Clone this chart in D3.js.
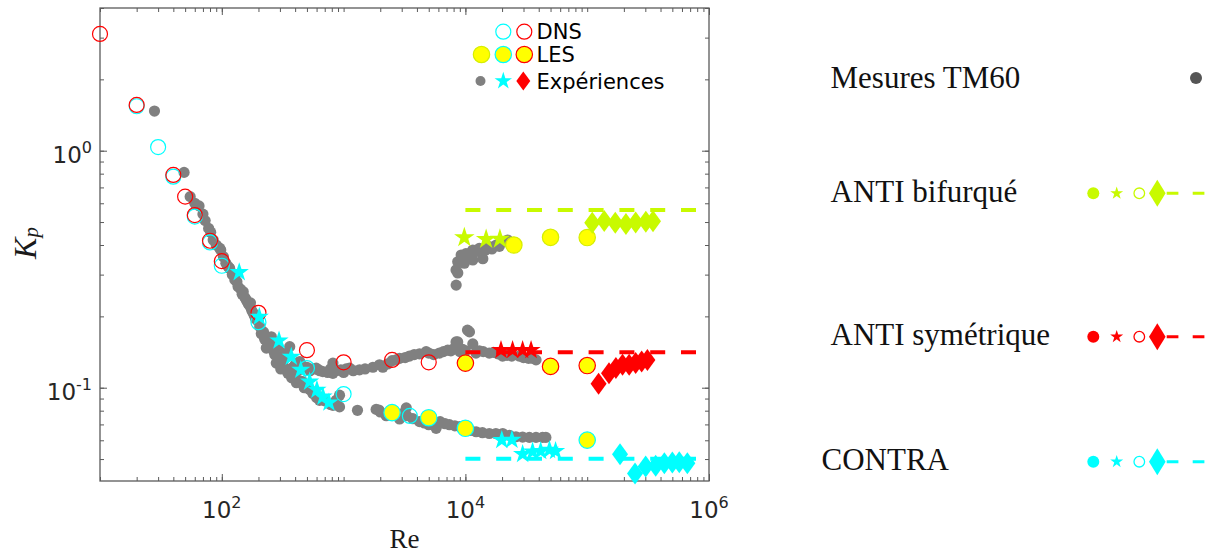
<!DOCTYPE html>
<html>
<head>
<meta charset="utf-8">
<script src="https://cdn.jsdelivr.net/npm/d3@7"></script>
<style>
  body { margin: 0; background: #fff; }
  svg { display: block; }
</style>
</head>
<body>
<svg id="chart" width="1205" height="554"></svg>
<script>
// ---------------- data: pressure coefficient Kp versus Reynolds number ----------------

// TM60 measurements (grey dots), split by branch: [Re, Kp]
const tm60Descent = [
  [28, 1.47], [49, 0.81], [55, 0.64], [60, 0.60], [65, 0.585], [70, 0.54], [73, 0.507],
  [78, 0.47], [81, 0.453], [85, 0.42], [90, 0.40], [96, 0.388], [98, 0.381], [103, 0.357],
  [108, 0.335], [113, 0.324], [116, 0.319], [122, 0.30], [128, 0.294], [128, 0.285],
  [133, 0.28], [136, 0.267], [143, 0.26], [147, 0.248], [150, 0.254], [155, 0.24],
  [159, 0.234], [165, 0.226], [170, 0.221], [172, 0.228], [176, 0.212], [181, 0.206],
  [186, 0.2], [190, 0.195], [200, 0.19], [205, 0.181], [211, 0.169], [220, 0.172],
  [225, 0.16], [232, 0.147], [240, 0.158], [246, 0.15], [255, 0.164], [262, 0.145],
  [266, 0.149], [272, 0.138], [280, 0.127], [289, 0.149], [298, 0.127], [305, 0.12],
  [310, 0.135], [320, 0.13], [328, 0.14], [338, 0.12], [349, 0.115], [361, 0.149],
  [361, 0.115], [375, 0.11], [385, 0.122], [396, 0.111], [410, 0.105], [420, 0.118],
  [436, 0.107], [436, 0.129], [460, 0.106], [475, 0.1], [494, 0.101], [494, 0.1],
  [530, 0.098], [560, 0.0946], [600, 0.091], [635, 0.0885], [635, 0.0916], [700, 0.088],
  [780, 0.085], [817, 0.0843], [870, 0.0885], [926, 0.093], [926, 0.083]
];
const tm60Anti = [
  [400, 0.125], [450, 0.125], [500, 0.122], [530, 0.118], [560, 0.12], [596, 0.121],
  [617, 0.119], [640, 0.118], [676, 0.117], [740, 0.116], [780, 0.12], [817, 0.115],
  [817, 0.127], [870, 0.118], [950, 0.119], [1000, 0.116], [1050, 0.12], [1120, 0.121],
  [1200, 0.118], [1350, 0.119], [1500, 0.12], [1740, 0.122], [1970, 0.125], [2100, 0.122],
  [2300, 0.126], [2500, 0.13], [2700, 0.131], [2880, 0.133], [3200, 0.134], [3475, 0.136],
  [3800, 0.138], [4200, 0.139], [4760, 0.142], [5000, 0.14], [5500, 0.138], [6120, 0.14],
  [6600, 0.142], [7160, 0.144], [7600, 0.143], [8000, 0.146], [8380, 0.156], [8650, 0.156],
  [9000, 0.142], [9500, 0.145], [10000, 0.143], [10400, 0.175], [10800, 0.172],
  [11500, 0.153], [12200, 0.14], [13000, 0.143], [14000, 0.142], [15700, 0.14],
  [17000, 0.141], [18500, 0.139], [20200, 0.136], [22000, 0.137], [24000, 0.136],
  [27700, 0.136], [30000, 0.134], [33000, 0.133], [35700, 0.133], [38000, 0.131]
];
const tm60Contra = [
  [1300, 0.0803], [1850, 0.081], [1950, 0.0805], [2000, 0.079], [2240, 0.0762],
  [2500, 0.078], [2880, 0.0738], [3000, 0.0775], [3270, 0.0822], [3300, 0.0762],
  [3700, 0.074], [4200, 0.0719], [4600, 0.071], [5000, 0.0698], [5400, 0.07],
  [5750, 0.0674], [6200, 0.0719], [6800, 0.0705], [7390, 0.0698], [8200, 0.069],
  [9000, 0.0685], [10000, 0.0674], [11000, 0.066], [12250, 0.0652], [13800, 0.0646],
  [15700, 0.0641], [17800, 0.0641], [20250, 0.0641], [23000, 0.063], [26000, 0.0621],
  [29500, 0.0619], [33500, 0.0617], [38000, 0.0617], [43000, 0.0617], [45800, 0.0617]
];
const tm60Bifurque = [
  [8400, 0.271], [8660, 0.305], [8380, 0.314], [8650, 0.34], [9230, 0.363], [9800, 0.335],
  [10100, 0.368], [10500, 0.355], [11000, 0.37], [11500, 0.346], [11500, 0.381],
  [12200, 0.375], [13000, 0.387], [13900, 0.35], [14500, 0.38], [15700, 0.394],
  [16500, 0.385], [17900, 0.40], [19000, 0.395], [20200, 0.413], [22200, 0.42]
];

// DNS (open circles)
const dnsContra = [
  [20, 1.54], [30, 1.036], [40, 0.777], [60, 0.527], [80, 0.41], [100, 0.327],
  [200, 0.189], [500, 0.121], [1000, 0.094], [2500, 0.0785], [3500, 0.076]
];
const dnsAntiSym = [
  [10, 3.11], [20, 1.56], [40, 0.79], [50, 0.64], [60, 0.535], [80, 0.417], [100, 0.342],
  [200, 0.207], [500, 0.144], [1000, 0.128], [2500, 0.131], [5000, 0.128]
];

// LES (yellow discs, edge coloured by configuration)
const lesBifurque = [[25000, 0.40], [50000, 0.431], [100000, 0.43]];
const lesAntiSym = [[10000, 0.127], [50000, 0.123], [100000, 0.124]];
const lesContra = [[2500, 0.0785], [5000, 0.0747], [10000, 0.0674], [100000, 0.0601]];

// Experiments: stars
const starsBifurque = [[9800, 0.43], [14800, 0.423], [19200, 0.424]];
const starsAntiSym = [[19600, 0.144], [24400, 0.144], [29500, 0.144], [34600, 0.144]];
const starsContra = [
  [139, 0.307], [203, 0.199], [295, 0.158], [372, 0.135], [445, 0.119], [526, 0.106],
  [604, 0.098], [677, 0.0916], [758, 0.0865],
  [19900, 0.0601], [24100, 0.0603], [29500, 0.0525], [35600, 0.0537], [41500, 0.054],
  [49000, 0.0546], [55000, 0.054]
];

// Experiments: diamonds
const diamBifurque = [
  [110000, 0.497], [138000, 0.505], [170000, 0.496], [208000, 0.49], [250000, 0.498],
  [303000, 0.502], [347000, 0.504]
];
const diamAntiSym = [
  [124000, 0.104], [151000, 0.115], [172000, 0.121], [195000, 0.125], [221000, 0.125],
  [250000, 0.127], [280000, 0.129], [312000, 0.131]
];
const diamContra = [
  [186000, 0.0524], [247000, 0.0435], [302000, 0.0465], [365000, 0.0468], [430000, 0.048],
  [500000, 0.0483], [570000, 0.0485], [664000, 0.048]
];

// Asymptotic levels (dashed), drawn from Re = 1e4 to 1e6
const refRange = [1e4, 1e6];
const refLevels = [
  { key: "bifurque", kp: 0.562 },
  { key: "antisym", kp: 0.141 },
  { key: "contra", kp: 0.0501 }
];

// Axis ticks and labels
const xMajor = [1e2, 1e4, 1e6];
const xMajorExp = ["2", "4", "6"];
const yMajor = [1e-1, 1e0];
const yMajorExp = ["-1", "0"];

// Legends
const methodLabels = ["DNS", "LES", "Expériences"];
const configLabels = ["Mesures TM60", "ANTI bifurqué", "ANTI symétrique", "CONTRA"];

// ---------------- styling ----------------
const C = {
  grey: "#808080",
  greyDark: "#555555",
  lime: "#c8fa00",
  limeEdge: "#d6ee00",
  red: "#ff0000",
  cyan: "#00ffff",
  yellow: "#ffff00",
  axis: "#5a5a5a",
  tickText: "#262626"
};
const seriesColor = { bifurque: C.lime, antisym: C.red, contra: C.cyan };

const svg = d3.select("#chart");

const plot = { left: 100, right: 709, top: 8, bottom: 481 };
const x = d3.scaleLog().domain([10, 1e6]).range([plot.left, plot.right]);
const y = d3.scaleLog().domain([0.0404, 4.0]).range([plot.bottom, plot.top]);

const diamond = (hw, hh) => `M0,${-hh}L${hw},0L0,${hh}L${-hw},0Z`;
const starPath = size => d3.symbol(d3.symbolStar, size)();

// ---------------- axes: box with inward ticks on all four sides ----------------
const minorX = x.ticks();
const minorY = y.ticks();

function tickGroup(axis, tx, ty, values, len) {
  svg.append("g")
    .attr("transform", `translate(${tx},${ty})`)
    .attr("color", C.axis)
    .call(axis.tickValues(values).tickSize(-len).tickFormat(""))
    .call(g => g.select(".domain").remove())
    .call(g => g.selectAll("line").attr("stroke-width", 1));
}
tickGroup(d3.axisBottom(x), 0, plot.bottom, minorX, 4);
tickGroup(d3.axisBottom(x), 0, plot.bottom, xMajor, 7);
tickGroup(d3.axisTop(x), 0, plot.top, minorX, 4);
tickGroup(d3.axisTop(x), 0, plot.top, xMajor, 7);
tickGroup(d3.axisLeft(y), plot.left, 0, minorY, 4);
tickGroup(d3.axisLeft(y), plot.left, 0, yMajor, 7);
tickGroup(d3.axisRight(y), plot.right, 0, minorY, 4);
tickGroup(d3.axisRight(y), plot.right, 0, yMajor, 7);

svg.append("rect")
  .attr("x", plot.left).attr("y", plot.top)
  .attr("width", plot.right - plot.left).attr("height", plot.bottom - plot.top)
  .attr("fill", "none").attr("stroke", C.axis).attr("stroke-width", 1.3);

// tick labels as powers of ten
const xl = svg.append("g").attr("font-family", "DejaVu Sans").attr("fill", C.tickText);
xMajor.forEach((v, i) => {
  const t = xl.append("text").attr("x", x(v)).attr("y", plot.bottom + 37)
    .attr("text-anchor", "middle").attr("font-size", 23);
  t.append("tspan").text("10");
  t.append("tspan").attr("font-size", 16).attr("dy", -10).text(xMajorExp[i]);
});
yMajor.forEach((v, i) => {
  const t = xl.append("text").attr("x", plot.left - 8).attr("y", y(v) + 12.5)
    .attr("text-anchor", "end").attr("font-size", 23);
  t.append("tspan").text("10");
  t.append("tspan").attr("font-size", 16).attr("dy", -10).text(yMajorExp[i]);
});

// axis titles
svg.append("text")
  .attr("x", (x(1e3) + x(1e4)) / 2).attr("y", 548)
  .attr("text-anchor", "middle")
  .attr("font-family", "Liberation Serif").attr("font-size", 27).attr("fill", "#1a1a1a")
  .text("Re");

const yt = svg.append("text")
  .attr("transform", "translate(36,243) rotate(-90)")
  .attr("text-anchor", "middle")
  .attr("font-family", "Liberation Serif").attr("font-style", "italic").attr("fill", "#1a1a1a");
yt.append("tspan").attr("font-size", 32).text("K");
yt.append("tspan").attr("font-size", 21).attr("dy", 2).text("p");

// ---------------- marks ----------------
const layer = svg.append("g");

// TM60 measurements
layer.append("g").selectAll("circle")
  .data([...tm60Descent, ...tm60Anti, ...tm60Contra, ...tm60Bifurque])
  .join("circle")
  .attr("cx", d => x(d[0])).attr("cy", d => y(d[1])).attr("r", 5.6)
  .attr("fill", C.grey);

// DNS open circles
function openCircles(data, color) {
  layer.append("g").selectAll("circle").data(data).join("circle")
    .attr("cx", d => x(d[0])).attr("cy", d => y(d[1])).attr("r", 7.5)
    .attr("fill", "none").attr("stroke", color).attr("stroke-width", 1.2);
}
openCircles(dnsContra, C.cyan);
openCircles(dnsAntiSym, C.red);

// LES discs
function lesDiscs(data, edge) {
  layer.append("g").selectAll("circle").data(data).join("circle")
    .attr("cx", d => x(d[0])).attr("cy", d => y(d[1])).attr("r", 8.2)
    .attr("fill", C.yellow).attr("stroke", edge).attr("stroke-width", 1.2);
}
lesDiscs(lesBifurque, C.limeEdge);
lesDiscs(lesAntiSym, C.red);
lesDiscs(lesContra, C.cyan);

// asymptotic levels
layer.append("g").selectAll("line").data(refLevels).join("line")
  .attr("x1", x(refRange[0])).attr("x2", x(refRange[1]))
  .attr("y1", d => y(d.kp)).attr("y2", d => y(d.kp))
  .attr("stroke", d => seriesColor[d.key]).attr("stroke-width", 4)
  .attr("stroke-dasharray", "15,15.8");

// experimental stars
function stars(data, color, size) {
  layer.append("g").selectAll("path").data(data).join("path")
    .attr("transform", d => `translate(${x(d[0])},${y(d[1])})`)
    .attr("d", starPath(size)).attr("fill", color);
}
stars(starsBifurque, C.lime, 130);
stars(starsAntiSym, C.red, 115);
stars(starsContra, C.cyan, 115);

// experimental diamonds
function diamonds(data, color) {
  layer.append("g").selectAll("path").data(data).join("path")
    .attr("transform", d => `translate(${x(d[0])},${y(d[1])})`)
    .attr("d", diamond(8, 11)).attr("fill", color);
}
diamonds(diamBifurque, C.lime);
diamonds(diamAntiSym, C.red);
diamonds(diamContra, C.cyan);

// ---------------- in-plot legend (method) ----------------
const lg = svg.append("g");
const lgRows = [31.7, 54.5, 81];
const lgCols = [481.5, 503.3, 524.3];
// DNS
lg.append("circle").attr("cx", lgCols[1]).attr("cy", lgRows[0]).attr("r", 7.5)
  .attr("fill", "none").attr("stroke", C.cyan).attr("stroke-width", 1.2);
lg.append("circle").attr("cx", lgCols[2]).attr("cy", lgRows[0]).attr("r", 7.5)
  .attr("fill", "none").attr("stroke", C.red).attr("stroke-width", 1.2);
// LES
[C.limeEdge, C.cyan, C.red].forEach((edge, i) => {
  lg.append("circle").attr("cx", lgCols[i]).attr("cy", lgRows[1]).attr("r", 8.2)
    .attr("fill", C.yellow).attr("stroke", edge).attr("stroke-width", 1.2);
});
// Experiments
lg.append("circle").attr("cx", lgCols[0] - 1).attr("cy", lgRows[2]).attr("r", 5)
  .attr("fill", C.grey);
lg.append("path").attr("transform", `translate(${lgCols[1]},${lgRows[2]})`)
  .attr("d", starPath(95)).attr("fill", C.cyan);
lg.append("path").attr("transform", `translate(${lgCols[2] - 1},${lgRows[2]})`)
  .attr("d", diamond(7, 9.5)).attr("fill", C.red);
methodLabels.forEach((t, i) => {
  lg.append("text").attr("x", 536.5).attr("y", lgRows[i] + 7.6)
    .attr("font-family", "DejaVu Sans").attr("font-size", 21).attr("fill", "#000")
    .text(t);
});

// ---------------- side legend (configuration) ----------------
const side = svg.append("g");
const sideRows = [
  { label: configLabels[0], y: 78, tx: 830.5, ty: 87.7 },
  { label: configLabels[1], y: 193.3, tx: 830.5, ty: 201.7, key: "bifurque" },
  { label: configLabels[2], y: 336.7, tx: 830.5, ty: 345, key: "antisym" },
  { label: configLabels[3], y: 461.7, tx: 821.5, ty: 470, key: "contra" }
];
sideRows.forEach(r => {
  side.append("text").attr("x", r.tx).attr("y", r.ty)
    .attr("font-family", "Liberation Serif").attr("font-size", 31).attr("fill", "#111")
    .text(r.label);
  if (!r.key) {
    side.append("circle").attr("cx", 1196).attr("cy", r.y).attr("r", 6).attr("fill", C.greyDark);
    return;
  }
  const col = seriesColor[r.key];
  side.append("circle").attr("cx", 1093.3).attr("cy", r.y).attr("r", 6).attr("fill", col);
  side.append("path").attr("transform", `translate(1116.7,${r.y})`)
    .attr("d", starPath(52)).attr("fill", col);
  side.append("circle").attr("cx", 1139.3).attr("cy", r.y).attr("r", 5.3)
    .attr("fill", "none").attr("stroke", col).attr("stroke-width", 1.3);
  side.append("path").attr("transform", `translate(1157.3,${r.y})`)
    .attr("d", diamond(8.3, 13.5)).attr("fill", col);
  side.append("line").attr("x1", 1166.7).attr("x2", 1205).attr("y1", r.y).attr("y2", r.y)
    .attr("stroke", col).attr("stroke-width", 3).attr("stroke-dasharray", "11.7,14.3");
});
</script>
</body>
</html>
